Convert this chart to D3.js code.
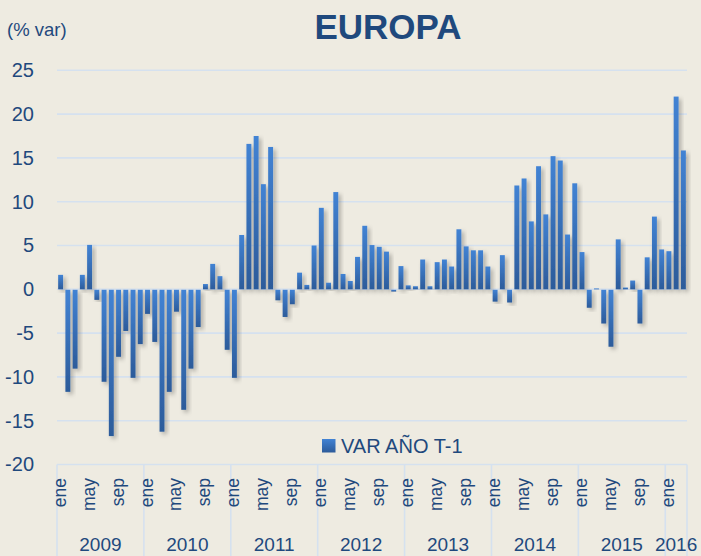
<!DOCTYPE html>
<html>
<head>
<meta charset="utf-8">
<script src="https://cdn.jsdelivr.net/npm/d3@7"></script>
<style>
  body { margin: 0; background: #eeebe1; }
  svg { display: block; font-family: "Liberation Sans", Arial, sans-serif; }
</style>
</head>
<body>
<svg></svg>
<script>
const svg = d3.select("svg").attr("width", 701).attr("height", 556);

// data
const years = ["2009", "2010", "2011", "2012", "2013", "2014", "2015", "2016"];
const monthNames = ["ene", "feb", "mar", "abr", "may", "jun", "jul", "ago", "sep", "oct", "nov", "dic"];
const monthsPerYear = [12, 12, 12, 12, 12, 12, 12, 3];
const values = [
  1.65, -11.65, -9.0, 1.65, 5.07, -1.15, -10.5, -16.7, -7.65, -4.7, -10.05, -6.2, // 2009
  -2.75, -5.95, -16.2, -11.65, -2.5, -13.7, -9.0, -4.25, 0.6, 2.9, 1.5, -6.85, // 2010
  -10.05, 6.2, 16.6, 17.5, 12.0, 16.25, -1.2, -3.1, -1.65, 1.9, 0.5, 5.0, // 2011
  9.3, 0.75, 11.1, 1.75, 0.95, 3.7, 7.25, 5.05, 4.85, 4.3, -0.2, 2.65, // 2012
  0.45, 0.35, 3.4, 0.35, 3.1, 3.4, 2.6, 6.85, 4.9, 4.45, 4.45, 2.6, // 2013
  -1.35, 3.9, -1.45, 11.85, 12.65, 7.75, 14.05, 8.55, 15.2, 14.7, 6.25, 12.1, // 2014
  4.25, -2.05, 0.1, -3.85, -6.5, 5.7, 0.2, 1.0, -3.85, 3.65, 8.3, 4.55, // 2015
  4.35, 22.0, 15.85 // 2016
];
const yTicks = [-20, -15, -10, -5, 0, 5, 10, 15, 20, 25];
const seriesName = "VAR AÑO T-1";

// build month list: {key, year, month}
const months = [];
years.forEach((yr, yi) => {
  for (let m = 0; m < monthsPerYear[yi]; m++) {
    months.push({ key: yr + "-" + m, year: yr, month: m });
  }
});
months.forEach((d, i) => (d.value = values[i]));

const textColor = "#1f497d";
const gridColor = "#d5e1ef";

// scales
const x = d3
  .scaleBand()
  .domain(months.map((d) => d.key))
  .range([57, 687])
  .paddingInner(0.32)
  .paddingOuter(0.16);

const y = d3.scaleLinear().domain([-20, 25]).range([464.5, 70.3]);

// defs: gradient + shadow
const defs = svg.append("defs");
const grad = defs
  .append("linearGradient")
  .attr("id", "barGrad")
  .attr("x1", 0)
  .attr("y1", 0)
  .attr("x2", 0)
  .attr("y2", 1);
grad.append("stop").attr("offset", "0%").attr("stop-color", "#4283d4");
grad.append("stop").attr("offset", "100%").attr("stop-color", "#2c5b9a");

const shadow = defs
  .append("filter")
  .attr("id", "shadow")
  .attr("x", "-100%")
  .attr("y", "-20%")
  .attr("width", "300%")
  .attr("height", "140%");
shadow
  .append("feDropShadow")
  .attr("dx", 2.5)
  .attr("dy", 2.5)
  .attr("stdDeviation", 2.2)
  .attr("flood-color", "#000")
  .attr("flood-opacity", 0.28);

// gridlines
svg
  .append("g")
  .attr("class", "grid")
  .selectAll("line")
  .data(yTicks.filter((t) => t !== -20))
  .enter()
  .append("line")
  .attr("x1", 57)
  .attr("x2", 687)
  .attr("y1", (d) => y(d))
  .attr("y2", (d) => y(d))
  .attr("stroke", gridColor)
  .attr("stroke-width", 1.6);

// y axis labels (plain hyphen for negatives, like the original)
const yAxis = d3
  .axisLeft(y)
  .tickValues(yTicks)
  .tickFormat((d) => String(d))
  .tickSize(0)
  .tickPadding(0);
const yG = svg.append("g").attr("transform", "translate(34,0)").call(yAxis);
yG.select(".domain").remove();
yG.selectAll("text")
  .attr("fill", textColor)
  .attr("font-size", 20)
  .attr("font-family", "Liberation Sans, Arial, sans-serif");

// bars
svg
  .append("g")
  .attr("class", "bars")
  .selectAll("rect")
  .data(months)
  .enter()
  .append("rect")
  .attr("x", (d) => x(d.key))
  .attr("width", x.bandwidth())
  .attr("y", (d) => (d.value >= 0 ? y(d.value) : y(0) + 0.5))
  .attr("height", (d) => Math.max(0.8, Math.abs(y(d.value) - y(0))))
  .attr("fill", "url(#barGrad)")
  .attr("filter", "url(#shadow)");

// category axis (two levels)
const axisY = 464.5;
const axisG = svg.append("g").attr("class", "cat-axis");
axisG
  .append("line")
  .attr("x1", 57)
  .attr("x2", 687)
  .attr("y1", axisY)
  .attr("y2", axisY)
  .attr("stroke", gridColor)
  .attr("stroke-width", 1.6);

// year boundaries
const yearStarts = years.map((yr) => months.find((d) => d.year === yr));
const boundaries = yearStarts.map((d) => x(d.key) - (x.step() * x.paddingInner()) / 2);
boundaries[0] = 57;
boundaries.push(687);
axisG
  .selectAll("line.sep")
  .data(boundaries)
  .enter()
  .append("line")
  .attr("class", "sep")
  .attr("x1", (d) => d)
  .attr("x2", (d) => d)
  .attr("y1", axisY)
  .attr("y2", 556)
  .attr("stroke", gridColor)
  .attr("stroke-width", 1.6);

// month labels every 4 months (ene, may, sep)
axisG
  .selectAll("text.month")
  .data(months.filter((d) => d.month % 4 === 0))
  .enter()
  .append("text")
  .attr("class", "month")
  .attr("transform", (d) => `translate(${x(d.key) + x.bandwidth() / 2 + 5},478) rotate(-90)`)
  .attr("text-anchor", "end")
  .attr("fill", textColor)
  .attr("font-size", 17.5)
  .text((d) => monthNames[d.month]);

// year labels
axisG
  .selectAll("text.year")
  .data(years)
  .enter()
  .append("text")
  .attr("class", "year")
  .attr("x", (d, i) => (boundaries[i] + boundaries[i + 1]) / 2)
  .attr("y", 551)
  .attr("text-anchor", "middle")
  .attr("fill", textColor)
  .attr("font-size", 19)
  .text((d) => d);

// title
svg
  .append("text")
  .attr("x", 388)
  .attr("y", 39)
  .attr("text-anchor", "middle")
  .attr("font-weight", "bold")
  .attr("font-size", 35)
  .attr("fill", textColor)
  .text("EUROPA");

// unit label
svg
  .append("text")
  .attr("x", 7)
  .attr("y", 35.5)
  .attr("font-size", 18.5)
  .attr("fill", textColor)
  .text("(% var)");

// legend
const legend = svg.append("g").attr("transform", "translate(322,439)");
legend
  .append("rect")
  .attr("width", 13.5)
  .attr("height", 13.5)
  .attr("fill", "url(#barGrad)");
legend
  .append("text")
  .attr("x", 19)
  .attr("y", 14.3)
  .attr("font-size", 20)
  .attr("fill", textColor)
  .text(seriesName);
</script>
</body>
</html>
